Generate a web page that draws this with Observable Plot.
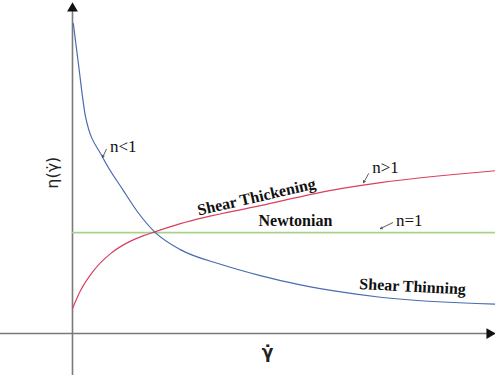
<!DOCTYPE html>
<html>
<head>
<meta charset="utf-8">
<script src="https://cdn.jsdelivr.net/npm/d3@7"></script>
<script src="https://cdn.jsdelivr.net/npm/@observablehq/plot@0.6"></script>
<style>
  html, body { margin: 0; padding: 0; background: #fff; }
</style>
</head>
<body>
<div id="chart"></div>
<script>
// Shear rate (x) and viscosity (y)
const thinningX = [0.02, 0.06, 0.14, 0.31, 0.71, 1.20, 1.54, 1.96, 2.55, 3.50, 4.44, 5.39, 6.34, 7.28, 10];
const thinningY = [9.31, 8.90, 8.10, 6.50, 5.30, 4.30, 3.65, 3.03, 2.52, 2.08, 1.74, 1.46, 1.25, 1.09, 0.88];

const thickeningX = [0, 0.19, 0.50, 0.90, 1.30, 1.68, 1.96, 2.55, 4.44, 6.34, 7.28, 10];
const thickeningY = [0.75, 1.29, 1.89, 2.40, 2.73, 2.94, 3.06, 3.30, 3.84, 4.35, 4.53, 4.89];

const newtonianX = [0, 10];
const newtonianY = [3.03, 3.03];

// Annotations
const curveLabels = ["Shear Thickening", "Newtonian", "Shear Thinning"];
const curveLabelX = [4.35, 5.27, 8.04];
const curveLabelY = [4.10, 3.39, 1.41];
const curveLabelRotate = [-13, 0, 3];

const nLabels = ["n<1", "n>1", "n=1"];
const nLabelX = [1.20, 7.40, 7.96];
const nLabelY = [5.62, 4.98, 3.39];
const nArrowX1 = [0.80, 7.00, 7.57];
const nArrowY1 = [5.53, 4.80, 3.33];
const nArrowX2 = [0.71, 6.88, 7.28];
const nArrowY2 = [5.29, 4.53, 3.15];

const yLabel = "η(γ̇)";
const xLabel = "γ̇";

const xDomain = [-1.702, 10];
const yDomain = [-1.47, 10];

const toPts = (xs, ys) => xs.map((x, i) => ({x, y: ys[i]}));
const thinning = toPts(thinningX, thinningY);
const thickening = toPts(thickeningX, thickeningY);
const newtonian = toPts(newtonianX, newtonianY);
const curveText = curveLabels.map((t, i) => ({t, x: curveLabelX[i], y: curveLabelY[i], r: curveLabelRotate[i]}));
const nText = nLabels.map((t, i) => ({t, x: nLabelX[i], y: nLabelY[i]}));
const nArrows = nLabels.map((t, i) => ({x1: nArrowX1[i], y1: nArrowY1[i], x2: nArrowX2[i], y2: nArrowY2[i]}));

const chart = Plot.plot({
  width: 495,
  height: 382,
  margin: 0,
  x: {domain: xDomain, axis: null},
  y: {domain: yDomain, axis: null},
  marks: [
    // axes
    Plot.ruleY([0], {x1: xDomain[0], x2: 9.85, stroke: "#7a7a7a", strokeWidth: 1.6}),
    Plot.ruleX([0], {y1: -1.26, y2: 9.7, stroke: "#7a7a7a", strokeWidth: 1.6}),
    Plot.dot([{x: 9.86, y: 0}], {x: "x", y: "y", symbol: "triangle", r: 4, fill: "#111", stroke: null, rotate: 90}),
    Plot.dot([{x: 0, y: 9.76}], {x: "x", y: "y", symbol: "triangle", r: 4, fill: "#111", stroke: null}),
    // curves
    Plot.line(newtonian, {x: "x", y: "y", stroke: "#a9d18e", strokeWidth: 1.6}),
    Plot.line(thickening, {x: "x", y: "y", stroke: "#d8405e", strokeWidth: 1.2, curve: "monotone-x"}),
    Plot.line(thinning, {x: "x", y: "y", stroke: "#4a6cb0", strokeWidth: 1.2, curve: "monotone-x"}),
    // annotation arrows
    Plot.arrow(nArrows, {x1: "x1", y1: "y1", x2: "x2", y2: "y2", stroke: "#333", strokeWidth: 0.8, headLength: 4}),
    // labels
    Plot.text(curveText, {x: "x", y: "y", text: "t", rotate: "r", fontFamily: "Liberation Serif", fontWeight: "bold", fontSize: 16, fill: "#111"}),
    Plot.text(nText, {x: "x", y: "y", text: "t", fontFamily: "Liberation Serif", fontSize: 17, fill: "#111"}),
    Plot.text([yLabel], {x: -0.47, y: 4.83, text: d => d, rotate: -90, fontFamily: "DejaVu Sans", fontSize: 16, fill: "#222"}),
    Plot.text([xLabel], {x: 4.61, y: -0.57, text: d => d, fontFamily: "DejaVu Sans", fontWeight: "bold", fontSize: 17, fill: "#222"})
  ]
});
document.getElementById("chart").appendChild(chart);
</script>
</body>
</html>
